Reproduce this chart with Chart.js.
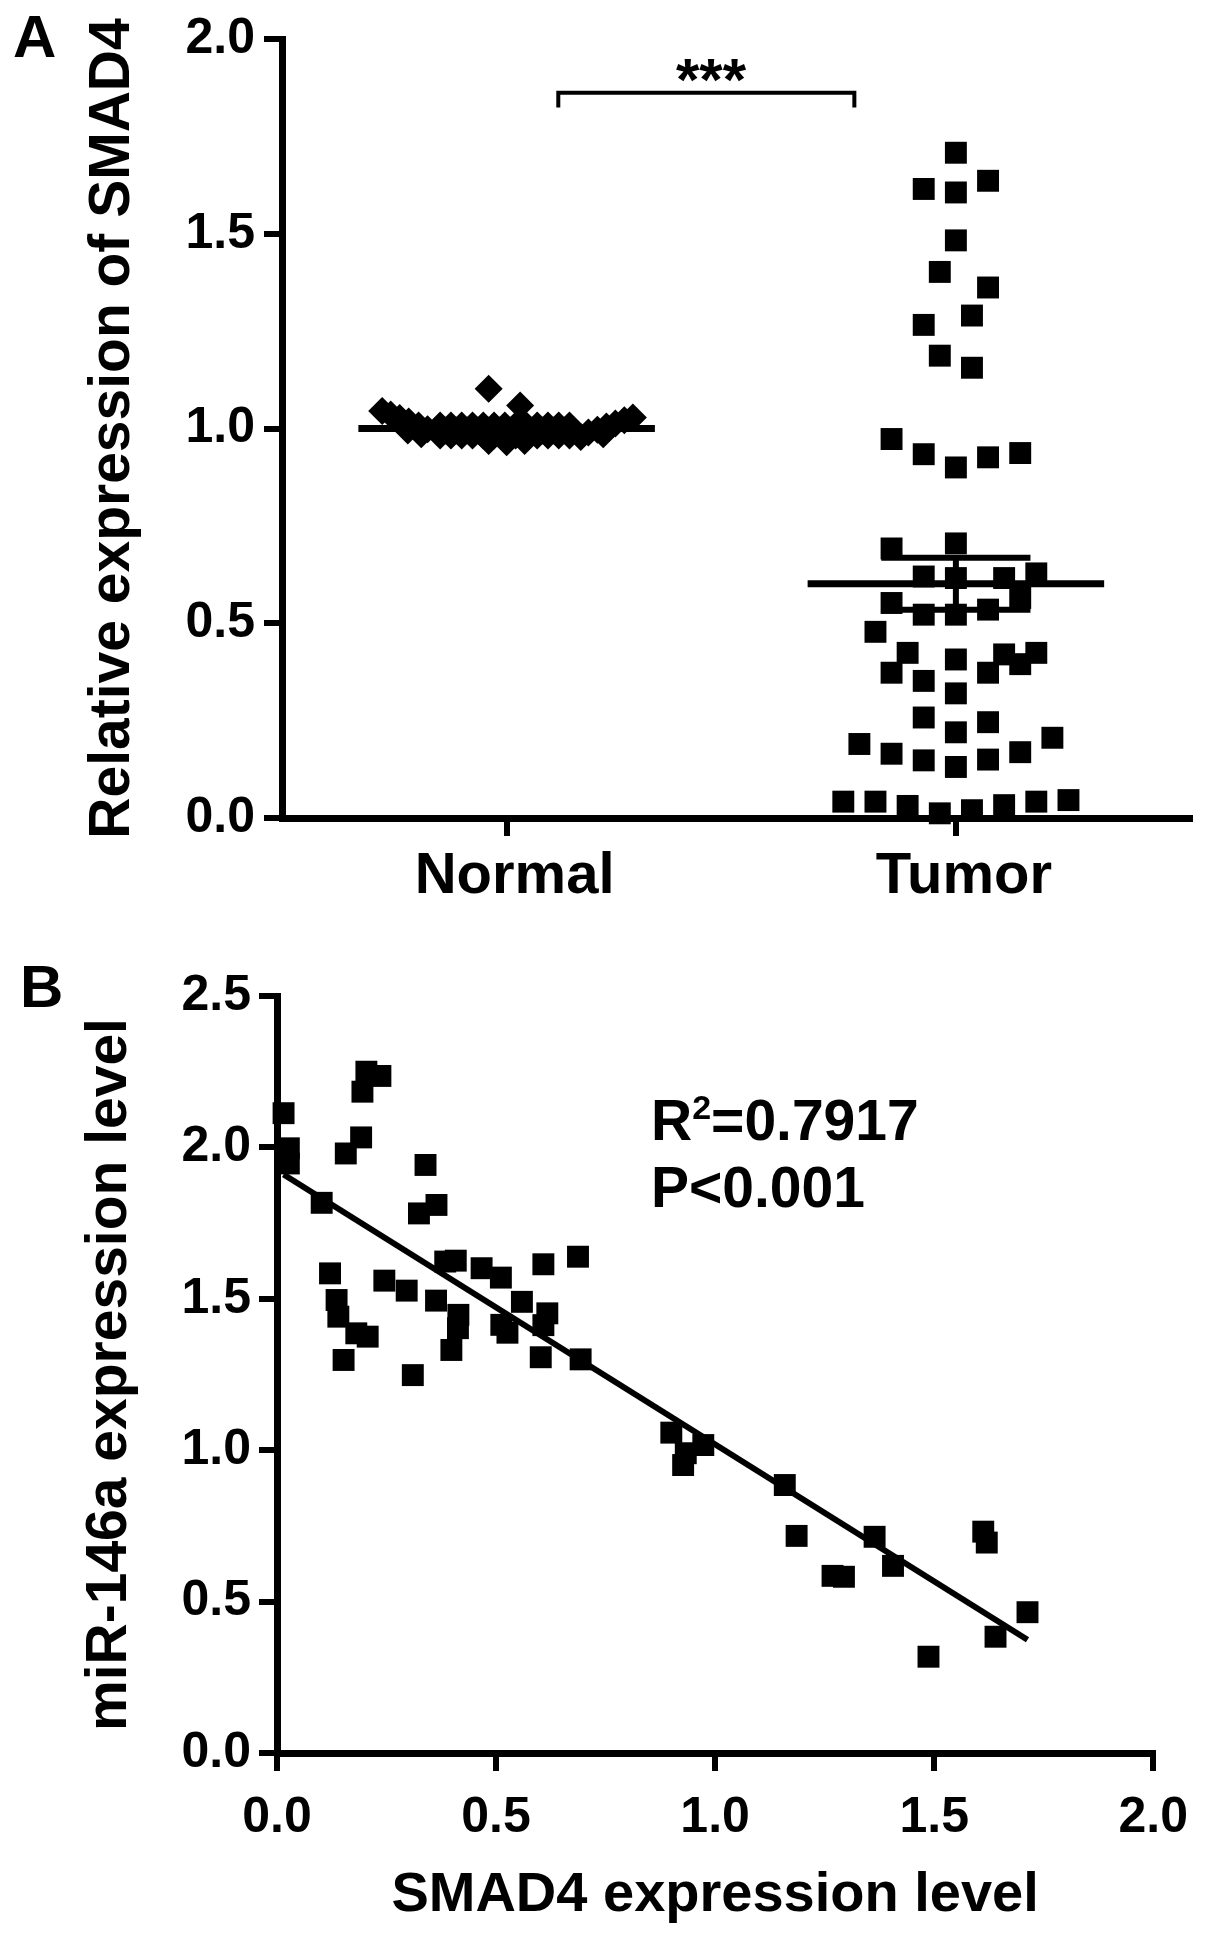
<!DOCTYPE html>
<html>
<head>
<meta charset="utf-8">
<script src="https://cdn.jsdelivr.net/npm/chart.js@4.4.1/dist/chart.umd.min.js"></script>
<style>
  body { margin: 0; background: #fff; width: 1205px; height: 1941px; position: relative; overflow: hidden;
         font-family: "Liberation Sans", Arial, sans-serif; color: #000; }
  canvas { position: absolute; left: 0; }
  #chartA { top: 0; }
  #chartB { top: 940px; }
  .txt { position: absolute; font-weight: bold; line-height: 1; white-space: nowrap; }
</style>
</head>
<body>
<canvas id="chartA" width="1205" height="960"></canvas>
<canvas id="chartB" width="1205" height="1001"></canvas>

<div class="txt" style="left:13px; top:7px; font-size:60px;">A</div>
<div class="txt" style="left:20px; top:957px; font-size:60px;">B</div>
<div class="txt" style="left:711px; top:50px; font-size:60px; transform:translateX(-50%);">***</div>
<div class="txt" style="left:651px; top:1092px; font-size:57px;">R<span style="font-size:34px; position:relative; top:-21px;">2</span>=0.7917</div>
<div class="txt" style="left:651px; top:1159px; font-size:57px;">P&lt;0.001</div>

<script>
// Panel A: relative SMAD4 expression, normal vs tumor
const groupLabels = ['Normal', 'Tumor'];

const normalValues = [
  1.102, 1.059,
  1.008, 1.008, 1.008, 1.008, 1.008, 1.008, 1.008, 1.008, 1.008, 1.008, 1.008, 1.008, 1.008,
  0.995, 0.995, 0.995, 0.995, 0.995, 0.995, 0.995, 0.995, 0.995, 0.995, 0.995, 0.995,
  0.982, 0.982, 0.982, 0.982, 0.982, 0.982, 0.982, 0.982, 0.982, 0.982, 0.982, 0.982, 0.982,
  0.968, 0.965, 0.968,
  1.045, 1.036, 1.027, 1.018, 1.008, 0.998, 0.995, 0.985,
  1.028, 1.021, 1.013, 1.005, 0.997, 0.990, 0.985, 0.978
];
// horizontal scatter of each normal point around its group (category units)
const normalJitter = [
  -0.04, 0.03,
  -0.148, -0.124, -0.100, -0.076, -0.052, -0.028, -0.004, 0.020, 0.044, 0.068, 0.092, 0.116, 0.140,
  -0.136, -0.112, -0.088, -0.064, -0.040, -0.016, 0.008, 0.032, 0.056, 0.080, 0.104, 0.128,
  -0.148, -0.124, -0.100, -0.076, -0.052, -0.028, -0.004, 0.020, 0.044, 0.068, 0.092, 0.116, 0.140,
  -0.04, 0.00, 0.04,
  -0.277, -0.258, -0.238, -0.218, -0.196, -0.176, -0.22, -0.19,
  0.281, 0.262, 0.242, 0.222, 0.202, 0.182, 0.215, 0.165
];

const tumorValues = [
  1.708, 1.615, 1.606, 1.636, 1.483, 1.402, 1.362, 1.266, 1.290, 1.187, 1.156,
  0.973, 0.934, 0.900, 0.926, 0.937,
  0.692, 0.705, 0.620, 0.616, 0.616, 0.628,
  0.552, 0.522, 0.522, 0.535, 0.565,
  0.478, 0.424, 0.373, 0.352, 0.407, 0.320, 0.373, 0.420, 0.395, 0.424,
  0.258, 0.246, 0.220, 0.190, 0.206,
  0.165, 0.148, 0.131, 0.150, 0.169,
  0.042, 0.042, 0.031, 0.012, 0.020, 0.033, 0.042, 0.046
];
// beeswarm column of each tumor point (0 = centre)
const tumorColumns = [
  0, -2, 0, 2, 0, -1, 2, -2, 1, -1, 1,
  -4, -2, 0, 2, 4,
  -4, 0, -2, 0, 3, 5,
  -4, -2, 0, 2, 4,
  -5, -3, -4, -2, 0, 0, 2, 3, 4, 5,
  -2, 2, 0, -6, 6,
  -4, -2, 0, 2, 4,
  -7, -5, -3, -1, 1, 3, 5, 7
];
const columnStep = 0.0358;

const sigBracketX = [1.115, 1.774];
const sigBracketY = [1.824, 1.862];

// Panel B: SMAD4 vs miR-146a in tumour samples
const smad4Level = [
  0.015, 0.027, 0.027, 0.102, 0.204, 0.236, 0.195, 0.192, 0.157,
  0.339, 0.364, 0.324, 0.121, 0.136, 0.140, 0.181, 0.207, 0.152,
  0.245, 0.296, 0.310, 0.384, 0.408, 0.363, 0.414, 0.413, 0.398,
  0.467, 0.511, 0.559, 0.512, 0.526, 0.608, 0.617, 0.608, 0.602,
  0.687, 0.693, 0.900, 0.973, 0.933, 0.927, 1.159, 1.186, 1.364,
  1.406, 1.268, 1.294, 1.612, 1.620, 1.713, 1.640, 1.487
];
const mir146aLevel = [
  2.113, 1.997, 1.947, 1.817, 2.250, 2.236, 2.184, 2.033, 1.980,
  1.942, 1.810, 1.782, 1.584, 1.496, 1.441, 1.386, 1.375, 1.298,
  1.560, 1.527, 1.248, 1.623, 1.626, 1.494, 1.447, 1.403, 1.331,
  1.601, 1.570, 1.490, 1.414, 1.388, 1.614, 1.452, 1.413, 1.307,
  1.639, 1.300, 1.058, 1.017, 0.990, 0.951, 0.885, 0.717, 0.714,
  0.618, 0.585, 0.582, 0.731, 0.695, 0.465, 0.384, 0.318
];

const FONT = '"Liberation Sans", Arial, sans-serif';
Chart.defaults.color = '#000';
Chart.defaults.font.family = FONT;

function meanSem(arr) {
  const n = arr.length;
  const m = arr.reduce((a, b) => a + b, 0) / n;
  const sd = Math.sqrt(arr.reduce((a, b) => a + (b - m) * (b - m), 0) / (n - 1));
  return { mean: m, sem: sd / Math.sqrt(n) };
}

// straight black segment drawn as a line dataset
function segment(points, width) {
  return {
    type: 'line',
    data: points,
    borderColor: '#000',
    borderWidth: width,
    borderCapStyle: 'butt',
    pointRadius: 0,
    fill: false,
    clip: false
  };
}

function axisStyle(tickSize, pad) {
  return {
    grid: { display: true, drawOnChartArea: false, drawTicks: true, tickLength: 18, lineWidth: 6, color: '#000' },
    border: { display: true, width: 7, color: '#000' },
    ticks: { color: '#000', font: { size: tickSize, weight: 'bold', family: FONT }, padding: pad }
  };
}

// ---- Panel A ----
const normalStats = meanSem(normalValues);
const tumorStats = meanSem(tumorValues);

const datasetsA = [
  {
    label: 'Normal',
    data: normalValues.map((v, i) => ({ x: 1 + normalJitter[i], y: v })),
    pointStyle: 'rectRot',
    pointRadius: 14,
    backgroundColor: '#000',
    borderWidth: 0,
    clip: false
  },
  {
    label: 'Tumor',
    data: tumorValues.map((v, i) => ({ x: 2 + tumorColumns[i] * columnStep, y: v })),
    pointStyle: 'rect',
    pointRadius: 15.5,
    backgroundColor: '#000',
    borderWidth: 0,
    clip: false
  }
];

[normalStats, tumorStats].forEach((s, i) => {
  const c = i + 1;
  datasetsA.push(segment([{ x: c - 0.33, y: s.mean }, { x: c + 0.33, y: s.mean }], 7));
  datasetsA.push(segment([{ x: c, y: s.mean - s.sem }, { x: c, y: s.mean + s.sem }], 6));
  datasetsA.push(segment([{ x: c - 0.166, y: s.mean + s.sem }, { x: c + 0.166, y: s.mean + s.sem }], 6));
  datasetsA.push(segment([{ x: c - 0.166, y: s.mean - s.sem }, { x: c + 0.166, y: s.mean - s.sem }], 6));
});

datasetsA.push(segment([
  { x: sigBracketX[0], y: sigBracketY[0] },
  { x: sigBracketX[0], y: sigBracketY[1] },
  { x: sigBracketX[1], y: sigBracketY[1] },
  { x: sigBracketX[1], y: sigBracketY[0] }
], 4));

const xA = axisStyle(58, 6);
const yA = axisStyle(50, 9);

new Chart(document.getElementById('chartA'), {
  type: 'scatter',
  data: { datasets: datasetsA },
  options: {
    responsive: false,
    animation: false,
    events: [],
    layout: { padding: { left: 0, right: 8, top: 34, bottom: 0 } },
    plugins: { legend: { display: false }, tooltip: { enabled: false } },
    scales: {
      x: {
        type: 'linear',
        min: 0.5,
        max: 2.52,
        grid: xA.grid,
        border: xA.border,
        afterBuildTicks: s => { s.ticks = groupLabels.map((g, i) => ({ value: i + 1 })); },
        afterFit: s => { s.height = 142; },
        ticks: Object.assign({}, xA.ticks, {
          autoSkip: false, maxRotation: 0, labelOffset: 8,
          callback: (v, i) => groupLabels[i]
        })
      },
      y: {
        min: 0,
        max: 2,
        grid: yA.grid,
        border: yA.border,
        afterFit: s => { s.width = 282; },
        ticks: Object.assign({}, yA.ticks, { stepSize: 0.5, callback: v => v.toFixed(1) }),
        title: {
          display: true,
          text: 'Relative expression of SMAD4',
          color: '#000',
          font: { size: 57, weight: 'bold', family: FONT, lineHeight: 1.2 },
          padding: { top: 79, bottom: 0 }
        }
      }
    }
  }
});

// ---- Panel B ----
const nB = smad4Level.length;
const mx = smad4Level.reduce((a, b) => a + b, 0) / nB;
const my = mir146aLevel.reduce((a, b) => a + b, 0) / nB;
let sxy = 0, sxx = 0;
smad4Level.forEach((x, i) => { sxy += (x - mx) * (mir146aLevel[i] - my); sxx += (x - mx) * (x - mx); });
const slope = sxy / sxx;
const intercept = my - slope * mx;
const fitX = [Math.min(...smad4Level), Math.max(...smad4Level)];

const xB = axisStyle(50, 17);
const yB = axisStyle(50, 8);

new Chart(document.getElementById('chartB'), {
  type: 'scatter',
  data: {
    datasets: [
      {
        label: 'samples',
        data: smad4Level.map((x, i) => ({ x: x, y: mir146aLevel[i] })),
        pointStyle: 'rect',
        pointRadius: 15.5,
        backgroundColor: '#000',
        borderWidth: 0,
        clip: false
      },
      segment(fitX.map(x => ({ x: x, y: intercept + slope * x })), 6)
    ]
  },
  options: {
    responsive: false,
    animation: false,
    events: [],
    layout: { padding: { left: 0, right: 42, top: 56, bottom: 0 } },
    plugins: { legend: { display: false }, tooltip: { enabled: false } },
    scales: {
      x: {
        type: 'linear',
        min: 0,
        max: 2,
        grid: xB.grid,
        border: xB.border,
        afterFit: s => { s.height = 188; },
        ticks: Object.assign({}, xB.ticks, { stepSize: 0.5, maxRotation: 0, callback: v => v.toFixed(1) }),
        title: {
          display: true,
          text: 'SMAD4 expression level',
          color: '#000',
          font: { size: 56, weight: 'bold', family: FONT, lineHeight: 1.2 },
          padding: { top: 0, bottom: 12 }
        }
      },
      y: {
        min: 0,
        max: 2.5,
        grid: yB.grid,
        border: yB.border,
        afterFit: s => { s.width = 277; },
        ticks: Object.assign({}, yB.ticks, { stepSize: 0.5, callback: v => v.toFixed(1) }),
        title: {
          display: true,
          text: 'miR-146a expression level',
          color: '#000',
          font: { size: 57, weight: 'bold', family: FONT, lineHeight: 1.2 },
          padding: { top: 76, bottom: 0 }
        }
      }
    }
  }
});
</script>
</body>
</html>
